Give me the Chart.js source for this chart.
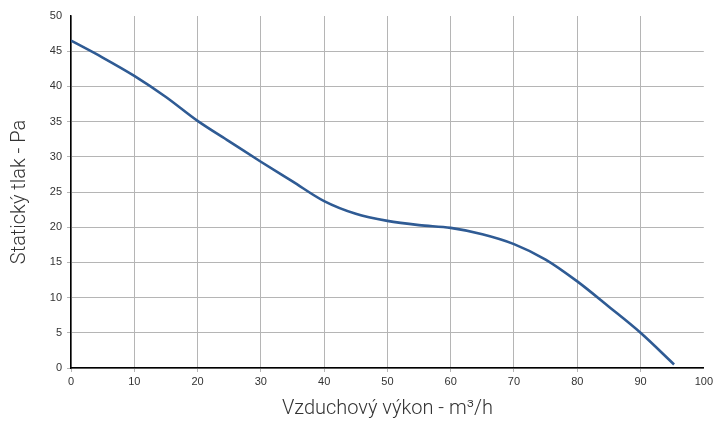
<!DOCTYPE html>
<html><head><meta charset="utf-8">
<script src="https://cdn.jsdelivr.net/npm/chart.js@4/dist/chart.umd.min.js"></script>
<style>html,body{margin:0;padding:0;background:#fff}#wrap{width:716px;height:421px}</style>
</head><body><div id="wrap"><canvas id="c" width="716" height="421"></canvas></div>
<script>
const flowValues = [0, 5, 10, 15, 20, 25, 30, 35, 40, 45, 50, 55, 60, 65, 70, 75, 80, 85, 90, 95.3];
const pressureValues = [46.5, 44.1, 41.5, 38.5, 35.1, 32.2, 29.3, 26.5, 23.7, 21.9, 20.9, 20.3, 19.9, 19.0, 17.6, 15.4, 12.3, 8.7, 5.0, 0.5];
const xTicks = [0,10,20,30,40,50,60,70,80,90,100];
const yTicks = [0,5,10,15,20,25,30,35,40,45,50];
const xTitle = 'Vzduchový výkon - m³/h';
const yTitle = 'Statický tlak - Pa';

const pts = flowValues.map((x,i)=>({x:x,y:pressureValues[i]}));
new Chart(document.getElementById('c'), {
  type:'line',
  data:{datasets:[{data:pts,borderColor:'#2f5b94',borderWidth:2.6,pointRadius:0,fill:false,cubicInterpolationMode:'monotone'}]},
  options:{
    responsive:false,animation:false,
    layout:{padding:{left:8,right:8,top:16,bottom:0}},
    plugins:{legend:{display:false},tooltip:{enabled:false}},
    scales:{
      x:{type:'linear',min:0,max:100,
        afterBuildTicks:s=>{s.ticks=xTicks.map(v=>({value:v}));},
        afterFit:s=>{s.height=53;},
        border:{color:'#000',width:1.5},
        grid:{lineWidth:1,tickLength:4,drawOnChartArea:true,
          color:c=>c.tick && c.tick.value===100?'rgba(0,0,0,0)':'#b5b5b5'},
        ticks:{color:'#333',font:{family:'Liberation Sans',size:11},padding:3,maxRotation:0},
        title:{display:true,text:xTitle,color:'#333',font:{family:'Roboto',weight:'300',size:20},padding:{top:5,bottom:0}}
      },
      y:{type:'linear',min:0,max:50,
        afterBuildTicks:s=>{s.ticks=yTicks.map(v=>({value:v}));},
        afterFit:s=>{s.width=63;},
        border:{color:'#000',width:1.5},
        grid:{tickLength:4,color:c=>c.tick && c.tick.value===50?'rgba(0,0,0,0)':'#b5b5b5'},
        ticks:{color:'#333',font:{family:'Liberation Sans',size:11},padding:5},
        title:{display:true,text:yTitle,color:'#333',font:{family:'Roboto',weight:'300',size:20},padding:{top:0,bottom:4}}
      }
    }
  }
});
</script></body></html>
